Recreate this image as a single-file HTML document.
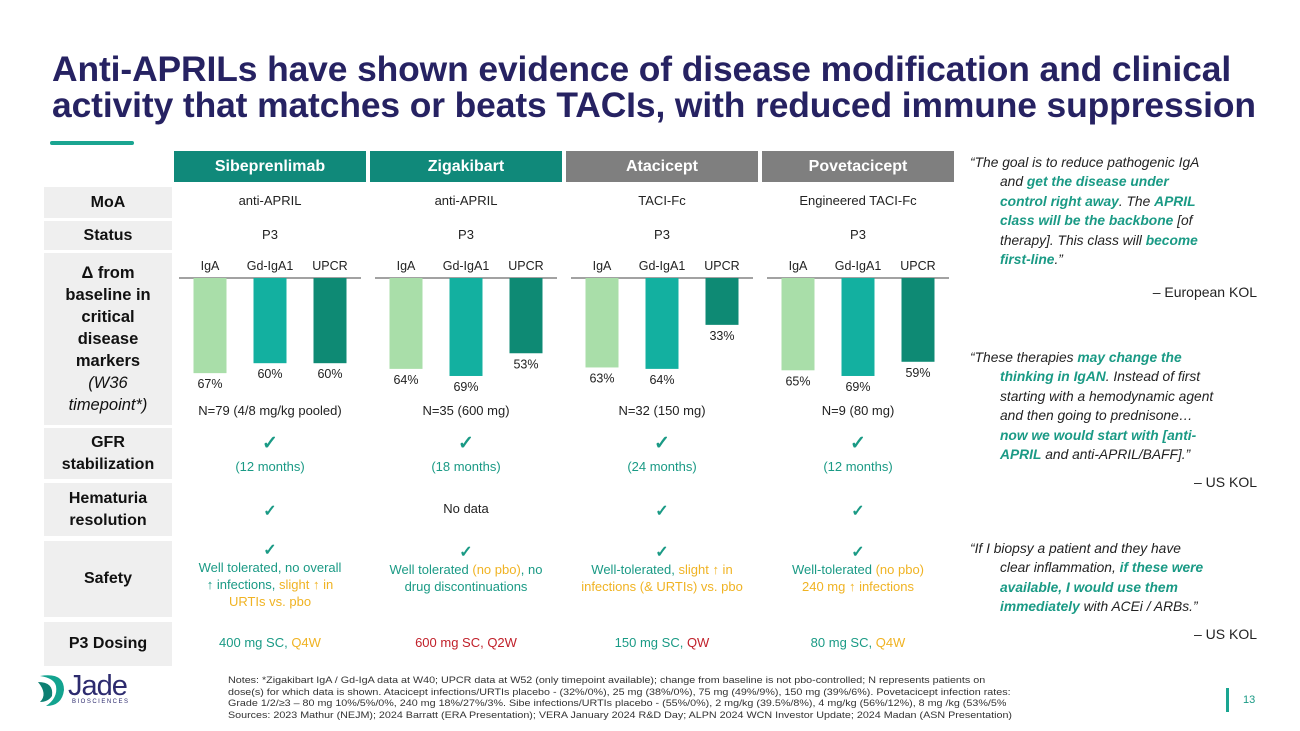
<!DOCTYPE html>
<html><head><meta charset="utf-8">
<style>
body{margin:0;width:1300px;height:731px;background:#fff;position:relative;overflow:hidden;font-family:"Liberation Sans",sans-serif;}
.a{position:absolute;}
.title{left:52px;top:51px;font-size:35.4px;font-weight:bold;color:#262262;line-height:36px;letter-spacing:-0.1px;white-space:nowrap;}
.hdr{top:151px;height:31px;width:192px;color:#fff;font-weight:bold;font-size:16px;text-align:center;line-height:31px;}
.lbl{left:44px;width:128px;background:#efefef;font-weight:bold;font-size:16px;text-align:center;display:flex;align-items:center;justify-content:center;line-height:22px;color:#111;}
.cell{width:192px;text-align:center;font-size:13px;color:#222;}
.tl{color:#1a9a85}.or{color:#f0b323}.rd{color:#c0202a}
.q{left:970px;width:300px;font-size:13.8px;font-style:italic;line-height:19.4px;color:#222;white-space:nowrap;}
.q .in{padding-left:30px;display:block;}
.q b{color:#1a9a85;}
.kol{right:43px;font-size:14px;color:#222;}
.notes{left:228px;top:674px;font-size:9.4px;line-height:11.6px;color:#333;width:740px;white-space:nowrap;transform:scaleX(1.145);transform-origin:0 0;}
</style></head><body>
<div class="a title">Anti-APRILs have shown evidence of disease modification and clinical<br>activity that matches or beats TACIs, with reduced immune suppression</div>
<div class="a" style="left:50px;top:141px;width:84px;height:4px;background:#1aa591;border-radius:2px"></div>

<div class="a hdr" style="left:174px;background:#10897a">Sibeprenlimab</div>
<div class="a hdr" style="left:370px;background:#10897a">Zigakibart</div>
<div class="a hdr" style="left:566px;background:#7f7f7f">Atacicept</div>
<div class="a hdr" style="left:762px;background:#7f7f7f">Povetacicept</div>

<div class="a lbl" style="top:187px;height:31px">MoA</div>
<div class="a lbl" style="top:221px;height:29px">Status</div>
<div class="a lbl" style="top:253px;height:172px;font-size:16.5px"><div>Δ from<br>baseline in<br>critical<br>disease<br>markers<br><span style="font-weight:normal;font-style:italic">(W36<br>timepoint*)</span></div></div>
<div class="a lbl" style="top:428px;height:51px">GFR<br>stabilization</div>
<div class="a lbl" style="top:483px;height:53px">Hematuria<br>resolution</div>
<div class="a lbl" style="top:541px;height:76px">Safety</div>
<div class="a lbl" style="top:622px;height:44px">P3 Dosing</div>

<div id="cells"></div>
<svg class="a" id="chart" style="left:0;top:0" width="960" height="430"></svg>

<div class="a q" style="top:153px">“The goal is to reduce pathogenic IgA<span class="in">and <b>get the disease under</b><br><b>control right away</b>. The <b>APRIL</b><br><b>class will be the backbone</b> [of<br>therapy]. This class will <b>become</b><br><b>first-line</b>.”</span></div>
<div class="a kol" style="top:284px">– European KOL</div>
<div class="a q" style="top:348px">“These therapies <b>may change the</b><span class="in"><b>thinking in IgAN</b>. Instead of first<br>starting with a hemodynamic agent<br>and then going to prednisone…<br><b>now we would start with [anti-</b><br><b>APRIL</b> and anti-APRIL/BAFF].”</span></div>
<div class="a kol" style="top:474px">– US KOL</div>
<div class="a q" style="top:539px">“If I biopsy a patient and they have<span class="in">clear inflammation, <b>if these were</b><br><b>available, I would use them</b><br><b>immediately</b> with ACEi / ARBs.”</span></div>
<div class="a kol" style="top:626px">– US KOL</div>

<div class="a notes">Notes: *Zigakibart IgA / Gd-IgA data at W40; UPCR data at W52 (only timepoint available); change from baseline is not pbo-controlled; N represents patients on<br>dose(s) for which data is shown. Atacicept infections/URTIs placebo - (32%/0%), 25 mg (38%/0%), 75 mg (49%/9%), 150 mg (39%/6%). Povetacicept infection rates:<br>Grade 1/2/≥3 – 80 mg 10%/5%/0%, 240 mg 18%/27%/3%. Sibe infections/URTIs placebo - (55%/0%), 2 mg/kg (39.5%/8%), 4 mg/kg (56%/12%), 8 mg /kg (53%/5%<br>Sources: 2023 Mathur (NEJM); 2024 Barratt (ERA Presentation); VERA January 2024 R&amp;D Day; ALPN 2024 WCN Investor Update; 2024 Madan (ASN Presentation)</div>

<div class="a" style="left:36px;top:672px;width:110px;height:36px">
<svg width="32" height="36" style="position:absolute;left:0;top:0"><path d="M4 4 Q28 0 28 18 Q26 34 10 34 Q22 26 20 14 Q18 6 4 4Z" fill="#13a38f"/><path d="M2 10 Q18 10 16 24 Q12 30 4 30 Q12 22 2 10Z" fill="#0d7f72"/></svg>
<div style="position:absolute;left:32px;top:-2px;font-size:29px;color:#2d2b6e;letter-spacing:-1px">Jade</div>
<div style="position:absolute;left:36px;top:27px;font-size:6px;color:#2d2b6e;letter-spacing:1.5px">BIOSCIENCES</div>
</div>
<div class="a" style="left:1226px;top:688px;width:3px;height:24px;background:#1aa591"></div>
<div class="a" style="left:1243px;top:694px;font-size:11px;color:#1a9a85">13</div>

<script>
const drugs=["Sibeprenlimab","Zigakibart","Atacicept","Povetacicept"];
const markers=["IgA","Gd-IgA1","UPCR"];
const igaVals=[67,64,63,65];
const gdVals=[60,69,64,69];
const upcrVals=[60,53,33,59];
const nLabels=["N=79 (4/8 mg/kg pooled)","N=35 (600 mg)","N=32 (150 mg)","N=9 (80 mg)"];
const moa=["anti-APRIL","anti-APRIL","TACI-Fc","Engineered TACI-Fc"];
const gfr=["(12 months)","(18 months)","(24 months)","(12 months)"];
const colLeft=[174,370,566,762];
const barColors=["#a9dea9","#13b0a0","#0e8a74"];
const NS="http://www.w3.org/2000/svg";
const svg=document.getElementById('chart');
const baseY=278, pxPer=1.42;
function yOf(v){return baseY+v*pxPer;}
const series=[igaVals,gdVals,upcrVals];
function t(x,y,s){const e=document.createElementNS(NS,'text');e.setAttribute('x',x);e.setAttribute('y',y);e.setAttribute('text-anchor','middle');e.setAttribute('font-size','12.5');e.setAttribute('fill','#222');e.setAttribute('font-family','Liberation Sans, sans-serif');e.textContent=s;svg.appendChild(e);return e;}
drugs.forEach((d,i)=>{
  const c=colLeft[i]+96;
  const ln=document.createElementNS(NS,'line');
  ln.setAttribute('x1',c-91);ln.setAttribute('x2',c+91);ln.setAttribute('y1',baseY);ln.setAttribute('y2',baseY);ln.setAttribute('stroke','#444');ln.setAttribute('stroke-width','1');
  
  
  svg.appendChild(ln);
  markers.forEach((m,j)=>{
    const cx=c+(j-1)*60;
    const lb=t(cx,270,m);
    
    
    const v=series[j][i];
    const r=document.createElementNS(NS,'rect');
    r.setAttribute('x',cx-16.5);r.setAttribute('y',baseY);r.setAttribute('width',33);r.setAttribute('height',yOf(v)-baseY);r.setAttribute('fill',barColors[j]);
    
    
    svg.appendChild(r);
    const vl=t(cx,yOf(v)+15,v+'%');
    
    
  });
  const nl=t(c,415,nLabels[i]);nl.setAttribute('font-size','13');
  
  
});
const cells=document.getElementById('cells');
const safety=[
 '<span class="tl">Well tolerated, no overall<br>↑ infections, </span><span class="or">slight ↑ in<br>URTIs vs. pbo</span>',
 '<span class="tl">Well tolerated </span><span class="or">(no pbo)</span><span class="tl">, no drug discontinuations</span>',
 '<span class="tl">Well-tolerated, </span><span class="or">slight ↑ in infections (&amp; URTIs) vs. pbo</span>',
 '<span class="tl">Well-tolerated </span><span class="or">(no pbo)</span><br><span class="or">240 mg ↑ infections</span>'];
const safetyTop=[546,566,566,566];
const dosing=['<span class="tl">400 mg SC, </span><span class="or">Q4W</span>','<span class="rd">600 mg SC, Q2W</span>','<span class="tl">150 mg SC, </span><span class="rd">QW</span>','<span class="tl">80 mg SC, </span><span class="or">Q4W</span>'];
const ck='<span class="tl" style="font-size:16px;font-weight:bold">✓</span>';
const hema=[ck,'No data',ck,ck];
const pads=[14,10,8,8];
function add(html,left,top,name,style){const d=document.createElement('div');d.className='a cell';d.style.left=left+'px';d.style.top=top+'px';if(style)d.style.cssText+=style;d.innerHTML=html;
 
 
 cells.appendChild(d);}
drugs.forEach((d,i)=>{
 const L=colLeft[i];
 add(moa[i],L,193,'moa-cell');
 add('P3',L,227,'status-cell');
 add('<span class="tl" style="font-size:19px;font-weight:bold">✓</span>',L,432,'gfr-check');
 add('<span class="tl">'+gfr[i]+'</span>',L,459,'gfr-duration');
 add(hema[i],L,501,'hematuria-cell');
 add(ck+'<br>'+safety[i],L,safetyTop[i]-(i==0?4:22),'safety-cell','line-height:17px;padding:0 '+pads[i]+'px;box-sizing:border-box');
 add(dosing[i],L,635,'dosing-cell');
});
</script>
</body></html>
